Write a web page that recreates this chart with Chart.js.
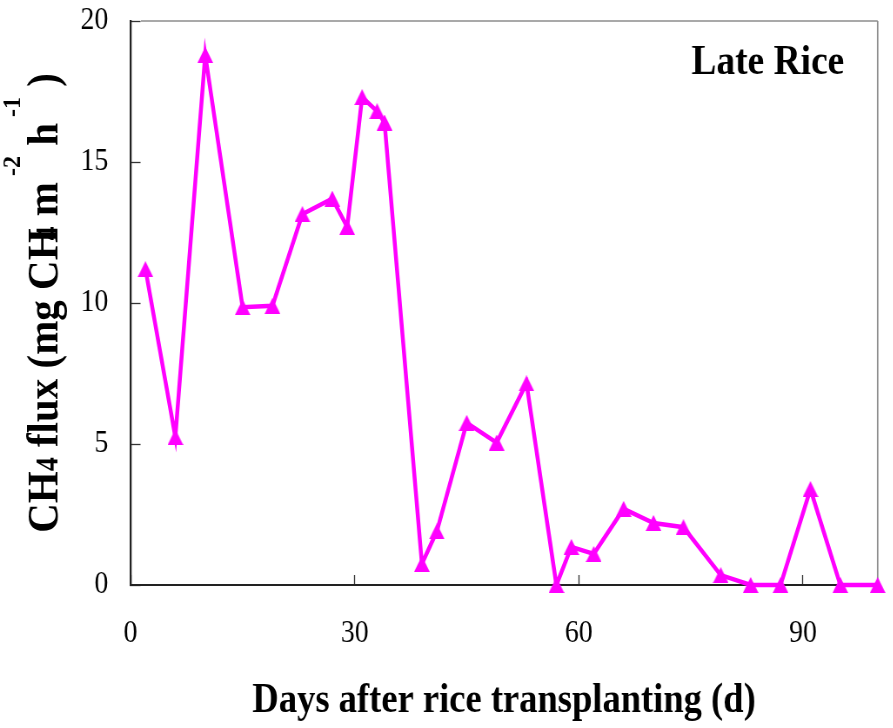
<!DOCTYPE html>
<html>
<head>
<meta charset="utf-8">
<script src="https://cdn.jsdelivr.net/npm/chart.js@4.4.1/dist/chart.umd.min.js"></script>
<style>
  html, body { margin: 0; padding: 0; background: #fff; overflow: hidden; }
  #wrap { width: 893px; height: 728px; position: relative; overflow: hidden; background: #fff; }
  /* the figure is drawn wide and squeezed horizontally, like the exported plot */
  #c { position: absolute; left: 0; top: 0; transform: scaleX(0.87); transform-origin: 0 0; }
</style>
</head>
<body>
<div id="wrap"><canvas id="c" width="1026" height="728"></canvas></div>
<script>
// CH4 flux, late rice season
const DAYS = [2, 6, 10, 15, 19, 23, 27, 29, 31, 33, 34, 39, 41, 45, 49, 53, 57, 59, 62, 66, 70, 74, 79, 83, 87, 91, 95, 100];
const FLUX = [11.2, 5.25, 18.8, 9.85, 9.9, 13.15, 13.7, 12.7, 17.3, 16.8, 16.4, 0.75, 1.9, 5.75, 5.05, 7.15, 0, 1.35, 1.1, 2.7, 2.2, 2.05, 0.35, 0, 0, 3.4, 0, 0];

const X_TICKS = [0, 30, 60, 90];
const Y_TICKS = [0, 5, 10, 15, 20];

const PANEL_TITLE = 'Late Rice';
const X_TITLE = 'Days after rice transplanting (d)';
// y title pieces: [text, kind]
const Y_TITLE_PARTS = [
  ['CH', 'n'], ['4', 'sub'], [' flux (mg CH', 'n'], ['4', 'sub2'],
  [' m', 'n'], [' -2', 'sup'], [' h', 'n'], [' -1', 'sup'], [' )', 'n']
];

const SQ = 0.87;            // same factor as the CSS scaleX
const SERIF = '"Liberation Serif", "Times New Roman", serif';
const MAGENTA = '#ff00ff';

// triangle marker centred on its bounding box
function makeTriangle(w, h, color) {
  const c = document.createElement('canvas');
  c.width = w; c.height = h;
  const g = c.getContext('2d');
  g.fillStyle = color;
  g.beginPath();
  g.moveTo(w / 2, 0);
  g.lineTo(w, h);
  g.lineTo(0, h);
  g.closePath();
  g.fill();
  return c;
}

// gray top/right frame
const framePlugin = {
  id: 'frame',
  beforeDatasetsDraw(chart) {
    const a = chart.chartArea, ctx = chart.ctx;
    ctx.save();
    ctx.strokeStyle = '#8c8c8c';
    ctx.lineWidth = 1.5;
    ctx.beginPath(); ctx.moveTo(a.left + 12, a.top); ctx.lineTo(a.right, a.top); ctx.stroke();
    ctx.lineWidth = 1.5 / SQ;
    ctx.beginPath(); ctx.moveTo(a.right, a.top); ctx.lineTo(a.right, a.bottom); ctx.stroke();
    ctx.restore();
  }
};

// panel label and the rotated y title with sub/superscripts
const textPlugin = {
  id: 'texts',
  afterDraw(chart) {
    const a = chart.chartArea, ctx = chart.ctx;
    ctx.save();
    ctx.fillStyle = '#000';
    ctx.font = `bold 43px ${SERIF}`;
    ctx.textAlign = 'right';
    ctx.textBaseline = 'alphabetic';
    ctx.fillText(PANEL_TITLE, a.right - 38.5, a.top + 53);
    ctx.restore();

    const kinds = {
      n:    { size: 41, dy: 0,   kern: 0 },
      sub:  { size: 28, dy: 0,   kern: 0 },
      sub2: { size: 28, dy: 0,   kern: -12 },
      sup:  { size: 24, dy: -34, kern: 0 }
    };
    ctx.save();
    ctx.translate(57 / SQ, (a.top + a.bottom) / 2);
    ctx.scale(1.08 / SQ, 1);
    ctx.rotate(-Math.PI / 2);
    ctx.fillStyle = '#000';
    ctx.textAlign = 'left';
    ctx.textBaseline = 'alphabetic';
    let total = 0;
    const widths = Y_TITLE_PARTS.map(([t, k]) => {
      ctx.font = `bold ${kinds[k].size}px ${SERIF}`;
      const w = ctx.measureText(t).width + kinds[k].kern;
      total += w;
      return w;
    });
    let u = -total / 2;
    Y_TITLE_PARTS.forEach(([t, k], i) => {
      const s = kinds[k];
      ctx.font = `bold ${s.size}px ${SERIF}`;
      ctx.fillText(t, u + s.kern, s.dy);
      u += widths[i];
    });
    ctx.restore();
  }
};

const tickFont = { family: SERIF, size: 32 };

new Chart(document.getElementById('c').getContext('2d'), {
  type: 'line',
  data: {
    datasets: [{
      data: DAYS.map((d, i) => ({ x: d, y: FLUX[i] })),
      borderColor: MAGENTA,
      borderWidth: 4.5,
      pointStyle: makeTriangle(18, 16, MAGENTA),
      pointRadius: 9,
      pointBorderWidth: 0,
      tension: 0,
      clip: false
    }]
  },
  plugins: [framePlugin, textPlugin],
  options: {
    responsive: false,
    devicePixelRatio: 1,
    animation: false,
    events: [],
    layout: { padding: { top: 21, right: 17.2, left: 0, bottom: 0 } },
    scales: {
      x: {
        type: 'linear',
        min: 0, max: 100,
        afterBuildTicks: (s) => { s.ticks = X_TICKS.map(v => ({ value: v })); },
        afterFit: (s) => { s.height = 143; s.paddingLeft = 0; s.paddingRight = 0; },
        grid: { drawOnChartArea: false, drawTicks: true, tickLength: -10, tickColor: '#333', tickWidth: 1.3 },
        border: { color: '#222', width: 2 },
        ticks: { color: '#000', font: tickFont, padding: 39.3, maxRotation: 0, autoSkip: false },
        title: {
          display: true, text: X_TITLE, color: '#000',
          font: { family: SERIF, size: 42, weight: 'bold' },
          padding: { top: 0, bottom: 2 }
        }
      },
      y: {
        type: 'linear',
        min: 0, max: 20,
        afterBuildTicks: (s) => { s.ticks = Y_TICKS.map(v => ({ value: v })); },
        afterFit: (s) => { s.width = 150; s.paddingTop = 0; s.paddingBottom = 0; },
        grid: { drawOnChartArea: false, drawTicks: true, tickLength: -11.5, tickColor: '#333', tickWidth: 1.3 },
        border: { color: '#222', width: 2 / SQ },
        ticks: { color: '#000', font: tickFont, padding: 37 }
      }
    },
    plugins: {
      legend: { display: false },
      tooltip: { enabled: false }
    }
  }
});
</script>
</body>
</html>
